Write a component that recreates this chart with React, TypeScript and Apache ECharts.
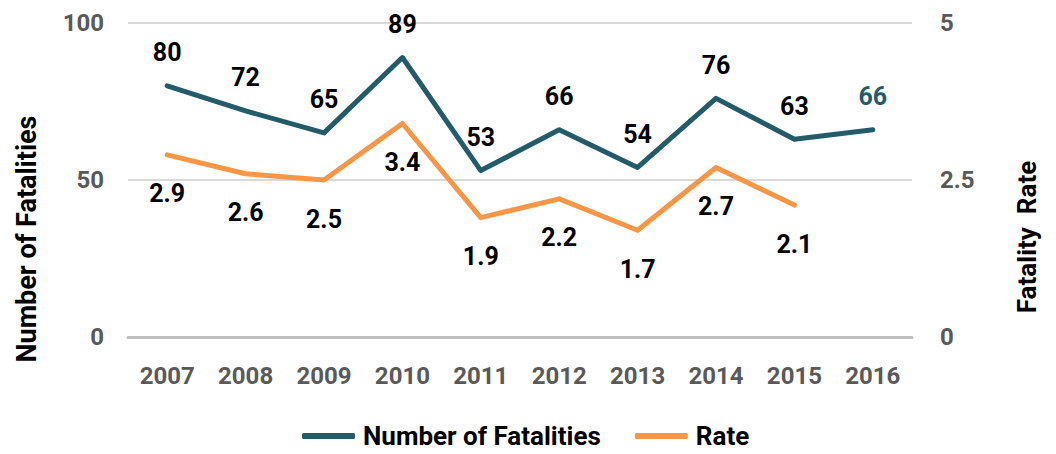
import React, { useEffect, useRef } from "react";
import * as echarts from "echarts";

const years = ["2007", "2008", "2009", "2010", "2011", "2012", "2013", "2014", "2015", "2016"];
const fatalities = [80, 72, 65, 89, 53, 66, 54, 76, 63, 66];
const rates: (number | null)[] = [2.9, 2.6, 2.5, 3.4, 1.9, 2.2, 1.7, 2.7, 2.1, null];
const leftTicks = { min: 0, max: 100, interval: 50 };
const rightTicks = { min: 0, max: 5, interval: 2.5 };

const FONT = "Roboto, 'Liberation Sans', sans-serif";
const TEAL = "#235B69";
const ORANGE = "#F79646";
const GRAY = "#595959";

export default function App() {
  const ref = useRef<HTMLDivElement>(null);
  useEffect(() => {
    if (!ref.current) return;
    const chart = echarts.init(ref.current, null, { renderer: "svg" });
    chart.setOption({
      animation: false,
      textStyle: { fontFamily: FONT, fontWeight: "bold" },
      grid: { left: 120, right: 136, top: 15, bottom: 117, containLabel: false },
      legend: {
        top: 410,
        left: 289,
        itemWidth: 53,
        itemHeight: 6,
        itemGap: 34,
        textStyle: { fontFamily: FONT, fontWeight: "bold", fontSize: 26, color: "#000", padding: [0, 0, 0, 3] },
        data: [
          { name: "Number of Fatalities", icon: "roundRect" },
          { name: "Rate", icon: "roundRect" },
        ],
      },
      xAxis: {
        type: "category",
        data: years,
        boundaryGap: true,
        axisLine: { show: true, lineStyle: { color: "#bfbfbf", width: 3 } },
        axisTick: { show: false },
        axisLabel: { interval: 0, color: GRAY, fontSize: 24, fontFamily: FONT, fontWeight: "bold", margin: 27 },
      },
      yAxis: [
        {
          type: "value",
          ...leftTicks,
          axisLine: { show: false },
          axisTick: { show: false },
          splitLine: { lineStyle: { color: "#d9d9d9", width: 2 } },
          axisLabel: { color: GRAY, fontSize: 24, fontFamily: FONT, fontWeight: "bold", margin: 24 },
        },
        {
          type: "value",
          ...rightTicks,
          axisLine: { show: false },
          axisTick: { show: false },
          splitLine: { show: false },
          axisLabel: { color: GRAY, fontSize: 24, fontFamily: FONT, fontWeight: "bold", margin: 28 },
        },
      ],
      graphic: [
        {
          type: "text",
          x: 19,
          y: 231,
          rotation: Math.PI / 2,
          style: { text: "Number of Fatalities", font: `bold 27px ${FONT}`, fill: "#000", align: "center", verticalAlign: "middle" },
        },
        {
          type: "text",
          x: 1019,
          y: 229,
          rotation: Math.PI / 2,
          style: { text: "Fatality  Rate", font: `bold 26px ${FONT}`, fill: "#000", align: "center", verticalAlign: "middle" },
        },
      ],
      series: [
        {
          name: "Number of Fatalities",
          type: "line",
          data: fatalities.map((v, i) =>
            i === fatalities.length - 1 ? { value: v, label: { color: TEAL } } : v
          ),
          yAxisIndex: 0,
          symbol: "circle",
          symbolSize: 1,
          showSymbol: true,
          lineStyle: { color: TEAL, width: 5, cap: "round", join: "round" },
          itemStyle: { color: TEAL },
          label: { show: true, position: "top", distance: 20, color: "#000", fontSize: 25, fontFamily: FONT, fontWeight: "bold" },
        },
        {
          name: "Rate",
          type: "line",
          data: rates,
          yAxisIndex: 1,
          symbol: "circle",
          symbolSize: 1,
          showSymbol: true,
          lineStyle: { color: ORANGE, width: 5, cap: "round", join: "round" },
          itemStyle: { color: ORANGE },
          label: { show: true, position: "bottom", distance: 26, color: "#000", fontSize: 25, fontFamily: FONT, fontWeight: "bold" },
        },
      ],
    });
    return () => chart.dispose();
  }, []);
  return <div ref={ref} style={{ width: 1040, height: 446 }} />;
}
